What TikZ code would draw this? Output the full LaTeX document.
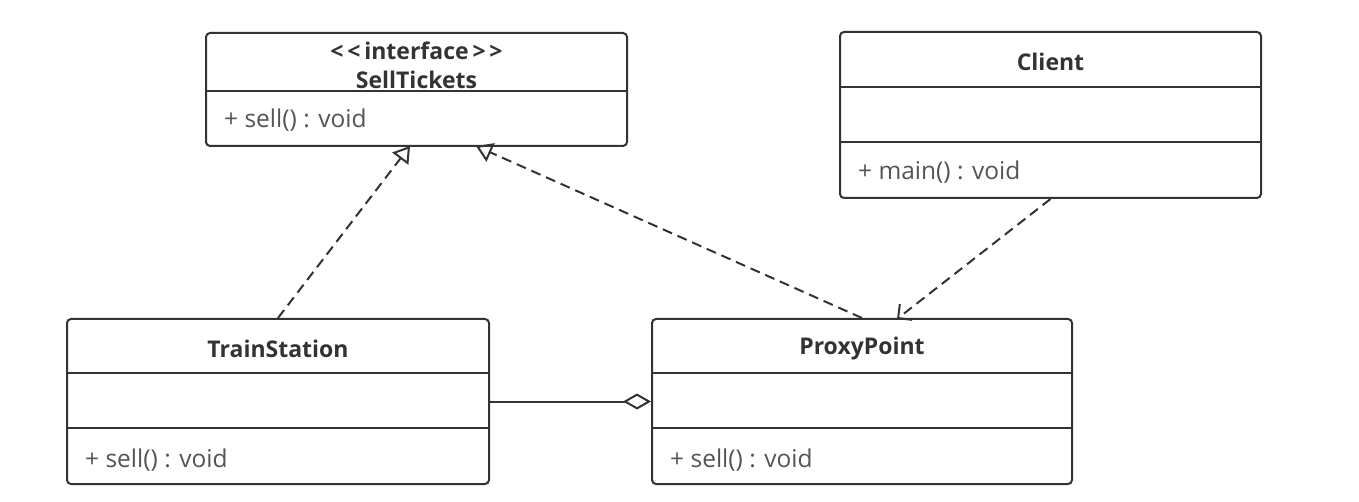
\documentclass[tikz,border=0pt]{standalone}
\usepackage{fontspec}
\setmainfont{Open Sans}
\usetikzlibrary{arrows.meta}
\definecolor{ln}{HTML}{333333}
\definecolor{tx}{HTML}{555555}
\definecolor{tt}{HTML}{333333}
\tikzset{
  cls/.style={draw=ln, line width=2pt, rounded corners=4pt, fill=white, inner sep=0pt},
  div/.style={draw=ln, line width=2pt},
  ttl/.style={font=\fontsize{23}{29}\selectfont\bfseries, text=tt, inner sep=0pt},
  mth/.style={font=\fontsize{24.5}{29}\selectfont, text=tx, inner sep=0pt, anchor=west},
  real/.style={draw=ln, line width=2pt, dash pattern=on 10pt off 6pt, -{Triangle[open, length=16pt, width=20pt, line width=2pt]}},
  dep/.style={draw=ln, line width=2pt, dash pattern=on 10pt off 6pt, -{Straight Barb[length=10pt, width=20pt, line width=2pt]}},
  agg/.style={draw=ln, line width=2pt, {Diamond[open, length=28pt, width=16pt, line width=2pt]}-},
}
\begin{document}
\begin{tikzpicture}[x=1pt, y=-1pt]
\useasboundingbox (0,0) rectangle (1359,502);
% SellTickets
\node[cls, minimum width=421pt, minimum height=113pt] (st) at (416.5,89.5) {};
\draw[div] (206,91) -- (627,91);
\node[ttl, align=center] (stt) at (416.5,65.5) {<\,<\,interface\,>\,>\\SellTickets};
\node[mth] (stm) at (224,120) {+ sell() : void};
% Client
\node[cls, minimum width=421pt, minimum height=166pt] (cl) at (1050.5,115) {};
\draw[div] (840,87) -- (1261,87);
\draw[div] (840,142) -- (1261,142);
\node[ttl] (clt) at (1050.5,62) {Client};
\node[mth] (clm) at (858,172) {+ main() : void};
% TrainStation
\node[cls, minimum width=422pt, minimum height=165pt] (ts) at (278,401.5) {};
\draw[div] (67,373) -- (489,373);
\draw[div] (67,428) -- (489,428);
\node[ttl] (tst) at (278,349) {TrainStation};
\node[mth] (tsm) at (85,460) {+ sell() : void};
% ProxyPoint
\node[cls, minimum width=420pt, minimum height=165pt] (pp) at (862,401.5) {};
\draw[div] (652,373) -- (1072,373);
\draw[div] (652,428) -- (1072,428);
\node[ttl] (ppt) at (862,349) {ProxyPoint};
\node[mth] (ppm) at (670,460) {+ sell() : void};
% connectors
\coordinate (a1) at (410,146);
\coordinate (a2) at (476,146);
\coordinate (d1) at (897,319);
\draw[real] (ts.north) -- (a1);
\draw[real] (pp.north) -- (a2);
\draw[dep] (cl.south) -- (d1);
\draw[agg] (pp.west) -- (ts.east);
\end{tikzpicture}
\end{document}
